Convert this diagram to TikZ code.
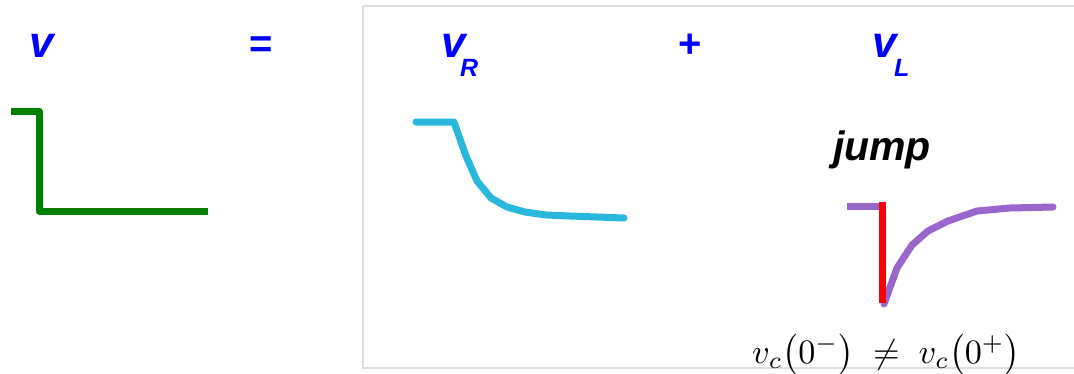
\documentclass[tikz,border=0pt]{standalone}
\usepackage{fontspec}
\usepackage{graphicx}
\setmainfont{Liberation Sans}
\definecolor{vblue}{HTML}{0000FF}
\definecolor{vgreen}{HTML}{008000}
\definecolor{vcyan}{HTML}{29B8DB}
\definecolor{vpurple}{HTML}{9966CC}
\definecolor{vred}{HTML}{FF0000}
\definecolor{boxgray}{HTML}{DDDDDD}
\newcommand{\lowsub}[2]{\makebox[#1pt][l]{}\raisebox{-19pt}{\fontsize{25}{25}\selectfont #2}}
\begin{document}
\begin{tikzpicture}[x=1pt,y=-1pt,
  lbl/.style={text=vblue,font=\fontsize{44}{44}\selectfont\bfseries\itshape,inner sep=0pt,anchor=base},
  lblw/.style={lbl,anchor=base west},
  op/.style={text=vblue,font=\fontsize{40}{40}\selectfont\bfseries,inner sep=0pt,anchor=base},
  wave/.style={line width=7pt,line join=round}]
\useasboundingbox (0,0) rectangle (1074,373);
\draw[boxgray,line width=1.2pt] (363,6) -- (1090,6) (363,6) -- (363,368) -- (1090,368);
% labels
\node[lbl] (v) at (42,57) {v};
\node[op] (eq) at (261,57) {=};
\node[lblw] (vR) at (441,57) {v\hspace{-5.5pt}\raisebox{-19pt}{\fontsize{25}{25}\selectfont R}};
\node[op] (plus) at (690,57) {+};
\node[lblw] (vL) at (872,57) {v\hspace{-2.5pt}\raisebox{-19pt}{\fontsize{25}{25}\selectfont L}};
\node[inner sep=0pt,anchor=base,font=\fontsize{41}{41}\selectfont\bfseries\itshape] (jump) at (882,160) {jump};
% waves
\draw[wave,vgreen] (11,111) -- (39,111) -- (39,211) -- (208,211);
\draw[wave,vcyan,line cap=round] (416,122) -- (454,122) -- (466,156) -- (477,181) -- (491,198) -- (507,207) -- (525,212) -- (546,215) -- (570,216) -- (624,218);
\draw[wave,vpurple] (847,206) -- (882,206);
\draw[wave,vpurple,line cap=round] (884,304) -- (897,268) -- (912,245) -- (928,231) -- (948,221) -- (977,211) -- (1010,208) -- (1053,207);
\draw[line width=7pt,vred] (882,202) -- (882,303);
% formula
\node[inner sep=0pt,anchor=base west] (f) at (752,363) {\resizebox{268pt}{!}{$v_c\bigl(0^-\bigr)\;\neq\;v_c\bigl(0^+\bigr)$}};
\end{tikzpicture}
\end{document}
